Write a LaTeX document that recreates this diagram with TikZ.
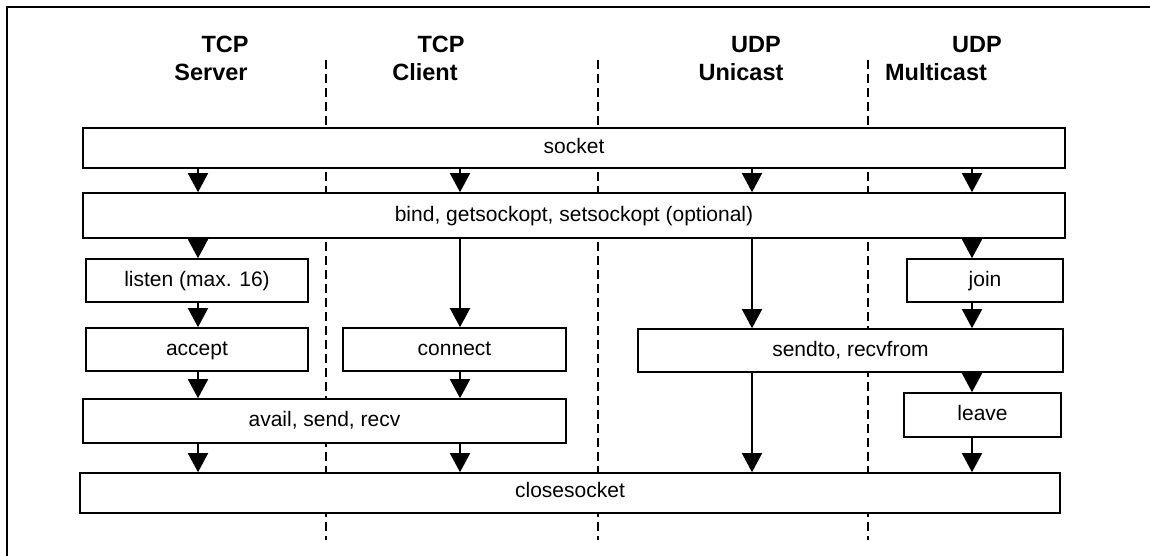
\documentclass[tikz,border=0pt]{standalone}
\usepackage{fontspec}
\setmainfont{Liberation Sans}
\usetikzlibrary{arrows.meta}
\tikzset{
  box/.style={draw, line width=1.6pt, fill=white, inner sep=0pt,
    font=\fontsize{21}{24}\selectfont, text height=15.5pt, text depth=4pt},
  arr/.style={line width=1.6pt, -{Triangle[width=20pt,length=19pt]}},
  lane/.style={line width=1.4pt, dash pattern=on 9pt off 5pt},
  head/.style={anchor=base, font=\fontsize{23.5}{26}\selectfont\bfseries, inner sep=0pt},
  frame/.style={line width=2.2pt}
}
\begin{document}
\begin{tikzpicture}[x=1pt,y=-1pt]
\useasboundingbox (0,0) rectangle (1150,555);
\clip (0,0) rectangle (1150,555);
\draw[frame] (7,580) -- (7,7) -- (1170,7);
% headers
\node[head] (h1a) at (225,52) {TCP};
\node[head] (h1b) at (211,80) {Server};
\node[head] (h2a) at (441,52) {TCP};
\node[head] (h2b) at (425,80) {Client};
\node[head] (h3a) at (756,52) {UDP};
\node[head] (h3b) at (741,80) {Unicast};
\node[head] (h4a) at (977,52) {UDP};
\node[head] (h4b) at (936,80) {Multicast};
% lanes
\draw[lane] (326,60) -- (326,540);
\draw[lane] (598,60) -- (598,540);
\draw[lane] (868,60) -- (868,540);
% column coordinates
\coordinate (cA) at (198,0);
\coordinate (cB) at (460,0);
\coordinate (cC) at (752,0);
\coordinate (cD) at (972,0);
% boxes
\node[box, minimum width=982pt, minimum height=40pt] (socket) at (574,148) {socket};
\node[box, minimum width=982pt, minimum height=45pt] (bind) at (574,215.5) {bind, getsockopt, setsockopt (optional)};
\node[box, minimum width=222pt, minimum height=43pt] (listen) at (197,280.5) {listen (max. 16)};
\node[box, minimum width=156pt, minimum height=43pt] (join) at (985,280.5) {join};
\node[box, minimum width=222pt, minimum height=43pt] (accept) at (197,349.5) {accept};
\node[box, minimum width=223pt, minimum height=43pt] (connect) at (454.5,349.5) {connect};
\node[box, minimum width=425pt, minimum height=43pt] (sendto) at (850.5,350.5) {sendto, recvfrom};
\node[box, minimum width=483pt, minimum height=44pt] (avail) at (324.5,421) {avail, send, recv};
\node[box, minimum width=157pt, minimum height=44pt] (leave) at (982.5,415) {leave};
\node[box, minimum width=980pt, minimum height=40pt, text height=12pt] (close) at (570,493) {closesocket};
% arrows
\foreach \c in {cA,cB,cC,cD}
  \draw[arr] (socket.south -| \c) -- (bind.north -| \c);
\draw[arr] (bind.south -| cA) -- (listen.north -| cA);
\draw[arr] (bind.south -| cB) -- (connect.north -| cB);
\draw[arr] (bind.south -| cC) -- (sendto.north -| cC);
\draw[arr] (bind.south -| cD) -- (join.north -| cD);
\draw[arr] (listen.south -| cA) -- (accept.north -| cA);
\draw[arr] (accept.south -| cA) -- (avail.north -| cA);
\draw[arr] (connect.south -| cB) -- (avail.north -| cB);
\draw[arr] (join.south -| cD) -- (sendto.north -| cD);
\draw[arr] (sendto.south -| cD) -- (leave.north -| cD);
\draw[arr] (avail.south -| cA) -- (close.north -| cA);
\draw[arr] (avail.south -| cB) -- (close.north -| cB);
\draw[arr] (sendto.south -| cC) -- (close.north -| cC);
\draw[arr] (leave.south -| cD) -- (close.north -| cD);
\end{tikzpicture}
\end{document}
